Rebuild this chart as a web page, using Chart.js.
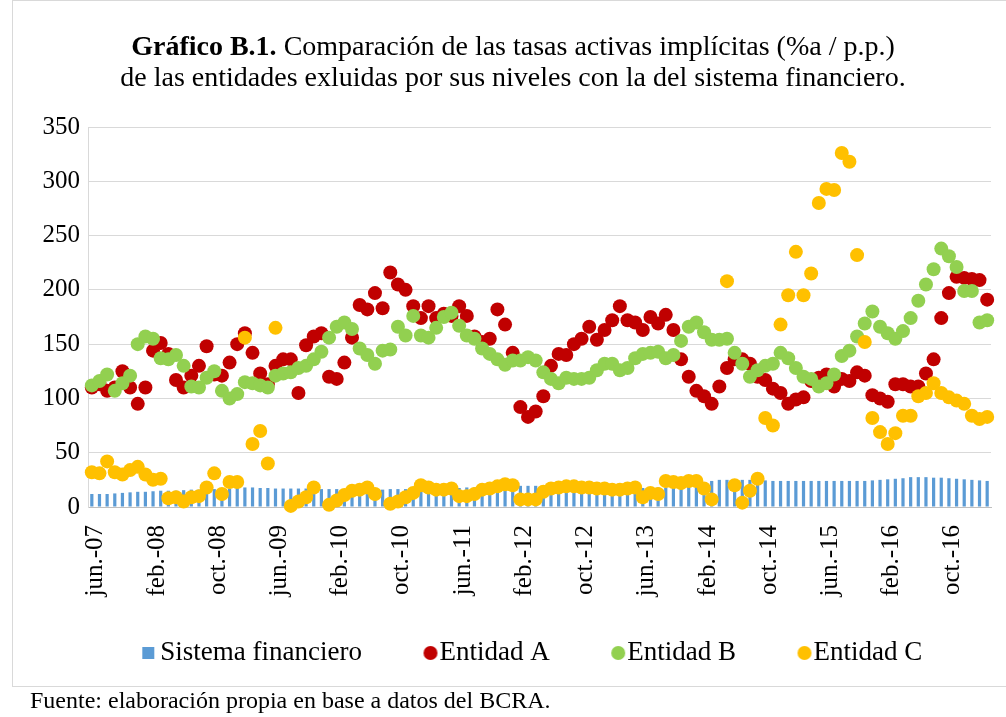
<!DOCTYPE html>
<html>
<head>
<meta charset="utf-8">
<title>Gráfico B.1</title>
<script src="https://cdn.jsdelivr.net/npm/chart.js"></script>
<style>
  html, body { margin: 0; padding: 0; background: #fff; }
  #wrap { position: relative; width: 1006px; height: 717px; overflow: hidden;
          font-family: "Liberation Serif", "Times New Roman", serif; color: #000; }
  #frame { position: absolute; left: 12px; top: 0; width: 1000px; height: 687px;
           border: 1px solid #d9d9d9; box-sizing: border-box; }
  #title { position: absolute; left: 13px; width: 1000px; top: 30px; text-align: center;
           font-size: 28px; line-height: 31px; }
  #source { position: absolute; left: 30px; top: 688px; font-size: 24px; line-height: 24px; }
  #chart { position: absolute; left: 0; top: 0; }
</style>
</head>
<body>
<div id="wrap">
  <div id="frame"></div>
  <canvas id="chart" width="1006" height="717"></canvas>
  <div id="title"><b>Gráfico B.1.</b> Comparación de las tasas activas implícitas (%a / p.p.)<br>de las entidades exluidas por sus niveles con la del sistema financiero.</div>
  <div id="source">Fuente: elaboración propia en base a datos del BCRA.</div>
</div>
<script>
// meses (jun-07 a mar-17)
const months = [
  "jun.-07","jul.-07","ago.-07","sep.-07","oct.-07","nov.-07","dic.-07",
  "ene.-08","feb.-08","mar.-08","abr.-08","may.-08","jun.-08","jul.-08","ago.-08","sep.-08","oct.-08","nov.-08","dic.-08",
  "ene.-09","feb.-09","mar.-09","abr.-09","may.-09","jun.-09","jul.-09","ago.-09","sep.-09","oct.-09","nov.-09","dic.-09",
  "ene.-10","feb.-10","mar.-10","abr.-10","may.-10","jun.-10","jul.-10","ago.-10","sep.-10","oct.-10","nov.-10","dic.-10",
  "ene.-11","feb.-11","mar.-11","abr.-11","may.-11","jun.-11","jul.-11","ago.-11","sep.-11","oct.-11","nov.-11","dic.-11",
  "ene.-12","feb.-12","mar.-12","abr.-12","may.-12","jun.-12","jul.-12","ago.-12","sep.-12","oct.-12","nov.-12","dic.-12",
  "ene.-13","feb.-13","mar.-13","abr.-13","may.-13","jun.-13","jul.-13","ago.-13","sep.-13","oct.-13","nov.-13","dic.-13",
  "ene.-14","feb.-14","mar.-14","abr.-14","may.-14","jun.-14","jul.-14","ago.-14","sep.-14","oct.-14","nov.-14","dic.-14",
  "ene.-15","feb.-15","mar.-15","abr.-15","may.-15","jun.-15","jul.-15","ago.-15","sep.-15","oct.-15","nov.-15","dic.-15",
  "ene.-16","feb.-16","mar.-16","abr.-16","may.-16","jun.-16","jul.-16","ago.-16","sep.-16","oct.-16","nov.-16","dic.-16",
  "ene.-17","feb.-17","mar.-17"
];

const sistemaFinanciero = [
  12, 12, 12, 12.5, 13, 13.5, 14, 14,
  14.5, 15, 15, 15, 15.5, 16, 16, 16,
  16.5, 17, 17, 17.5, 18, 18, 17.5, 17.5,
  17, 17, 17, 17, 17, 17, 16.5, 16.5,
  16.5, 16, 16, 16, 16, 16, 16, 16.5,
  16.5, 16.5, 17, 17, 17, 17, 17.5, 17.5,
  17.5, 18, 18, 18, 18.5, 18.5, 19, 19,
  19.5, 19.5, 19.5, 19, 19, 19, 18.5, 18.5,
  18, 18, 18, 17.5, 17.5, 17.5, 17.5, 17.5,
  17.5, 17.5, 18, 18, 18.5, 19, 20, 21,
  23, 24, 25, 25, 25, 25, 25, 24.5,
  24.5, 24, 24, 24, 24, 24, 24, 24,
  24, 24, 24,
  24, 24, 24, 24.5, 25, 25.5, 26, 26.5, 27.5, 27.5, 27.5, 27, 27, 26.5, 26, 25.5, 25, 24.5, 24
];

const entidadA = [
  110, 113, 107, 110, 125, 110, 95, 110,
  144, 151, 141, 117, 110, 121, 130, 148,
  122, 121, 133, 150, 160, 142, 123, 113,
  130, 136, 136, 105, 149, 157, 160, 120,
  118, 133, 156, 186, 182, 197, 183, 216,
  205, 200, 185, 174, 185, 174, 178, 176,
  185, 176, 157, 152, 155, 182, 168, 142,
  92, 83, 88, 102, 130, 141, 140, 150,
  155, 166, 154, 163, 172, 185, 172, 170,
  163, 175, 169, 177, 163, 136, 120, 107,
  102, 95, 111, 128, 136, 136, 132, 120,
  117, 109, 105, 95, 99, 101, 116, 119,
  122, 111, 118,
  116, 124, 121, 103, 100, 97, 113, 113, 111, 111, 123, 136, 174, 197, 212, 211, 210, 209, 191
];

const entidadB = [
  112, 116, 122, 107, 114, 121, 150, 157,
  155, 137, 136, 140, 130, 111, 110, 119,
  125, 107, 100, 104, 115, 114, 112, 110,
  121, 123, 124, 128, 130, 136, 143, 156,
  166, 170, 164, 146, 140, 132, 144, 145,
  166, 158, 176, 158, 156, 165, 175, 179,
  167, 158, 155, 146, 141, 136, 131, 135,
  135, 138, 135, 124, 118, 114, 119, 118,
  118, 119, 126, 132, 132, 126, 128, 137,
  141, 142, 143, 137, 140, 153, 166, 170,
  161, 154, 154, 155, 142, 132, 120, 126,
  130, 132, 142, 137, 128, 120, 118, 111,
  114, 122, 139,
  144, 157, 169, 180, 166, 160, 155, 162, 174, 190, 205, 219, 238, 231, 221, 199, 199, 170, 172
];

const entidadC = [
  32, 31, 42, 32, 30, 34, 37, 30,
  25, 26, 8, 9, 5, 9, 10, 18,
  31, 12, 23, 23, 156, 58, 70, 40,
  165, null, 1, 5, 9, 18, null, 2,
  6, 11, 15, 16, 18, 12, null, 3,
  5, 9, 13, 20, 18, 16, 16, 17,
  10, 10, 12, 16, 17, 19, 21, 20,
  7, 7, 7, 14, 17, 18, 19, 19,
  18, 18, 17, 17, 16, 16, 17, 18,
  9, 13, 12, 24, 23, 22, 24, 24,
  17, 7, null, 208, 20, 4, 15, 26,
  82, 75, 168, 195, 235, 195, 215, 280,
  293, 292, 326,
  318, 232, 152, 82, 69, 58, 68, 84, 84, 102, 105, 114, 105, 101, 98, 95, 84, 81, 83
];

const yTicks = [0, 50, 100, 150, 200, 250, 300, 350];

const colors = {
  sistema: "#5B9BD5",
  a: "#C00000",
  b: "#92D050",
  c: "#FFC000"
};

// small markers for the legend (drawn a bit right of centre so the text sits close)
function legendMark(color, round) {
  const c = document.createElement("canvas");
  c.width = 26;
  c.height = 14;
  const g = c.getContext("2d");
  g.fillStyle = color;
  if (round) {
    g.beginPath();
    g.arc(18, 7, 7, 0, Math.PI * 2);
    g.fill();
  } else {
    g.fillRect(9, 1, 12, 12);
  }
  return c;
}
const marks = [
  legendMark(colors.sistema, false),
  legendMark(colors.a, true),
  legendMark(colors.b, true),
  legendMark(colors.c, true)
];

// nudge the legend box so it sits where the original one is
const legendShift = {
  id: "legendShift",
  afterLayout: function (chart) {
    const lg = chart.legend;
    lg.left += 28.5;
    lg.right += 28.5;
    lg.top -= 22.5;
    lg.bottom -= 22.5;
  }
};

Chart.defaults.font.family = "'Liberation Serif', 'Times New Roman', serif";
Chart.defaults.color = "#000";

function dots(label, data, color, order) {
  return {
    type: "line",
    label: label,
    data: data,
    order: order,
    showLine: false,
    pointRadius: 7,
    pointHoverRadius: 7,
    pointBorderWidth: 0,
    pointBackgroundColor: color,
    pointBorderColor: color,
    backgroundColor: color,
    borderColor: color,
    clip: false
  };
}

const ctx = document.getElementById("chart").getContext("2d");
const myChart = new Chart(ctx, {
  type: "bar",
  data: {
    labels: months,
    datasets: [
      {
        label: "Sistema financiero",
        data: sistemaFinanciero,
        backgroundColor: colors.sistema,
        barPercentage: 0.42,
        categoryPercentage: 1,
        order: 4
      },
      dots("Entidad A", entidadA, colors.a, 3),
      dots("Entidad B", entidadB, colors.b, 2),
      dots("Entidad C", entidadC, colors.c, 1)
    ]
  },
  plugins: [legendShift],
  options: {
    responsive: false,
    animation: false,
    events: [],
    layout: {
      padding: { left: 20, right: 15, top: 127, bottom: 18 }
    },
    scales: {
      x: {
        grid: { display: false },
        border: { color: "#bfbfbf", width: 1 },
        ticks: {
          autoSkip: false,
          minRotation: 90,
          maxRotation: 90,
          padding: 10,
          labelOffset: 4,
          font: { size: 25 },
          callback: function (value, index) {
            return index % 8 === 0 ? this.getLabelForValue(value) : null;
          }
        },
        afterFit: function (scale) {
          scale.height = 92;
        }
      },
      y: {
        min: 0,
        max: 350,
        afterBuildTicks: function (scale) {
          scale.ticks = yTicks.map(function (v) { return { value: v }; });
        },
        grid: { color: "#d9d9d9", drawTicks: false },
        border: { color: "#d9d9d9" },
        ticks: { padding: 8, font: { size: 25 } },
        afterFit: function (scale) {
          scale.width = 68;
        }
      }
    },
    plugins: {
      tooltip: { enabled: false },
      legend: {
        position: "bottom",
        labels: {
          usePointStyle: true,
          boxWidth: 1,
          padding: 63,
          color: "#000",
          font: { size: 27 },
          sort: function (a, b) { return a.datasetIndex - b.datasetIndex; },
          generateLabels: function (chart) {
            const items = Chart.defaults.plugins.legend.labels.generateLabels(chart);
            items.forEach(function (item) {
              item.pointStyle = marks[item.datasetIndex];
            });
            return items;
          }
        }
      }
    }
  }
});
</script>
</body>
</html>
